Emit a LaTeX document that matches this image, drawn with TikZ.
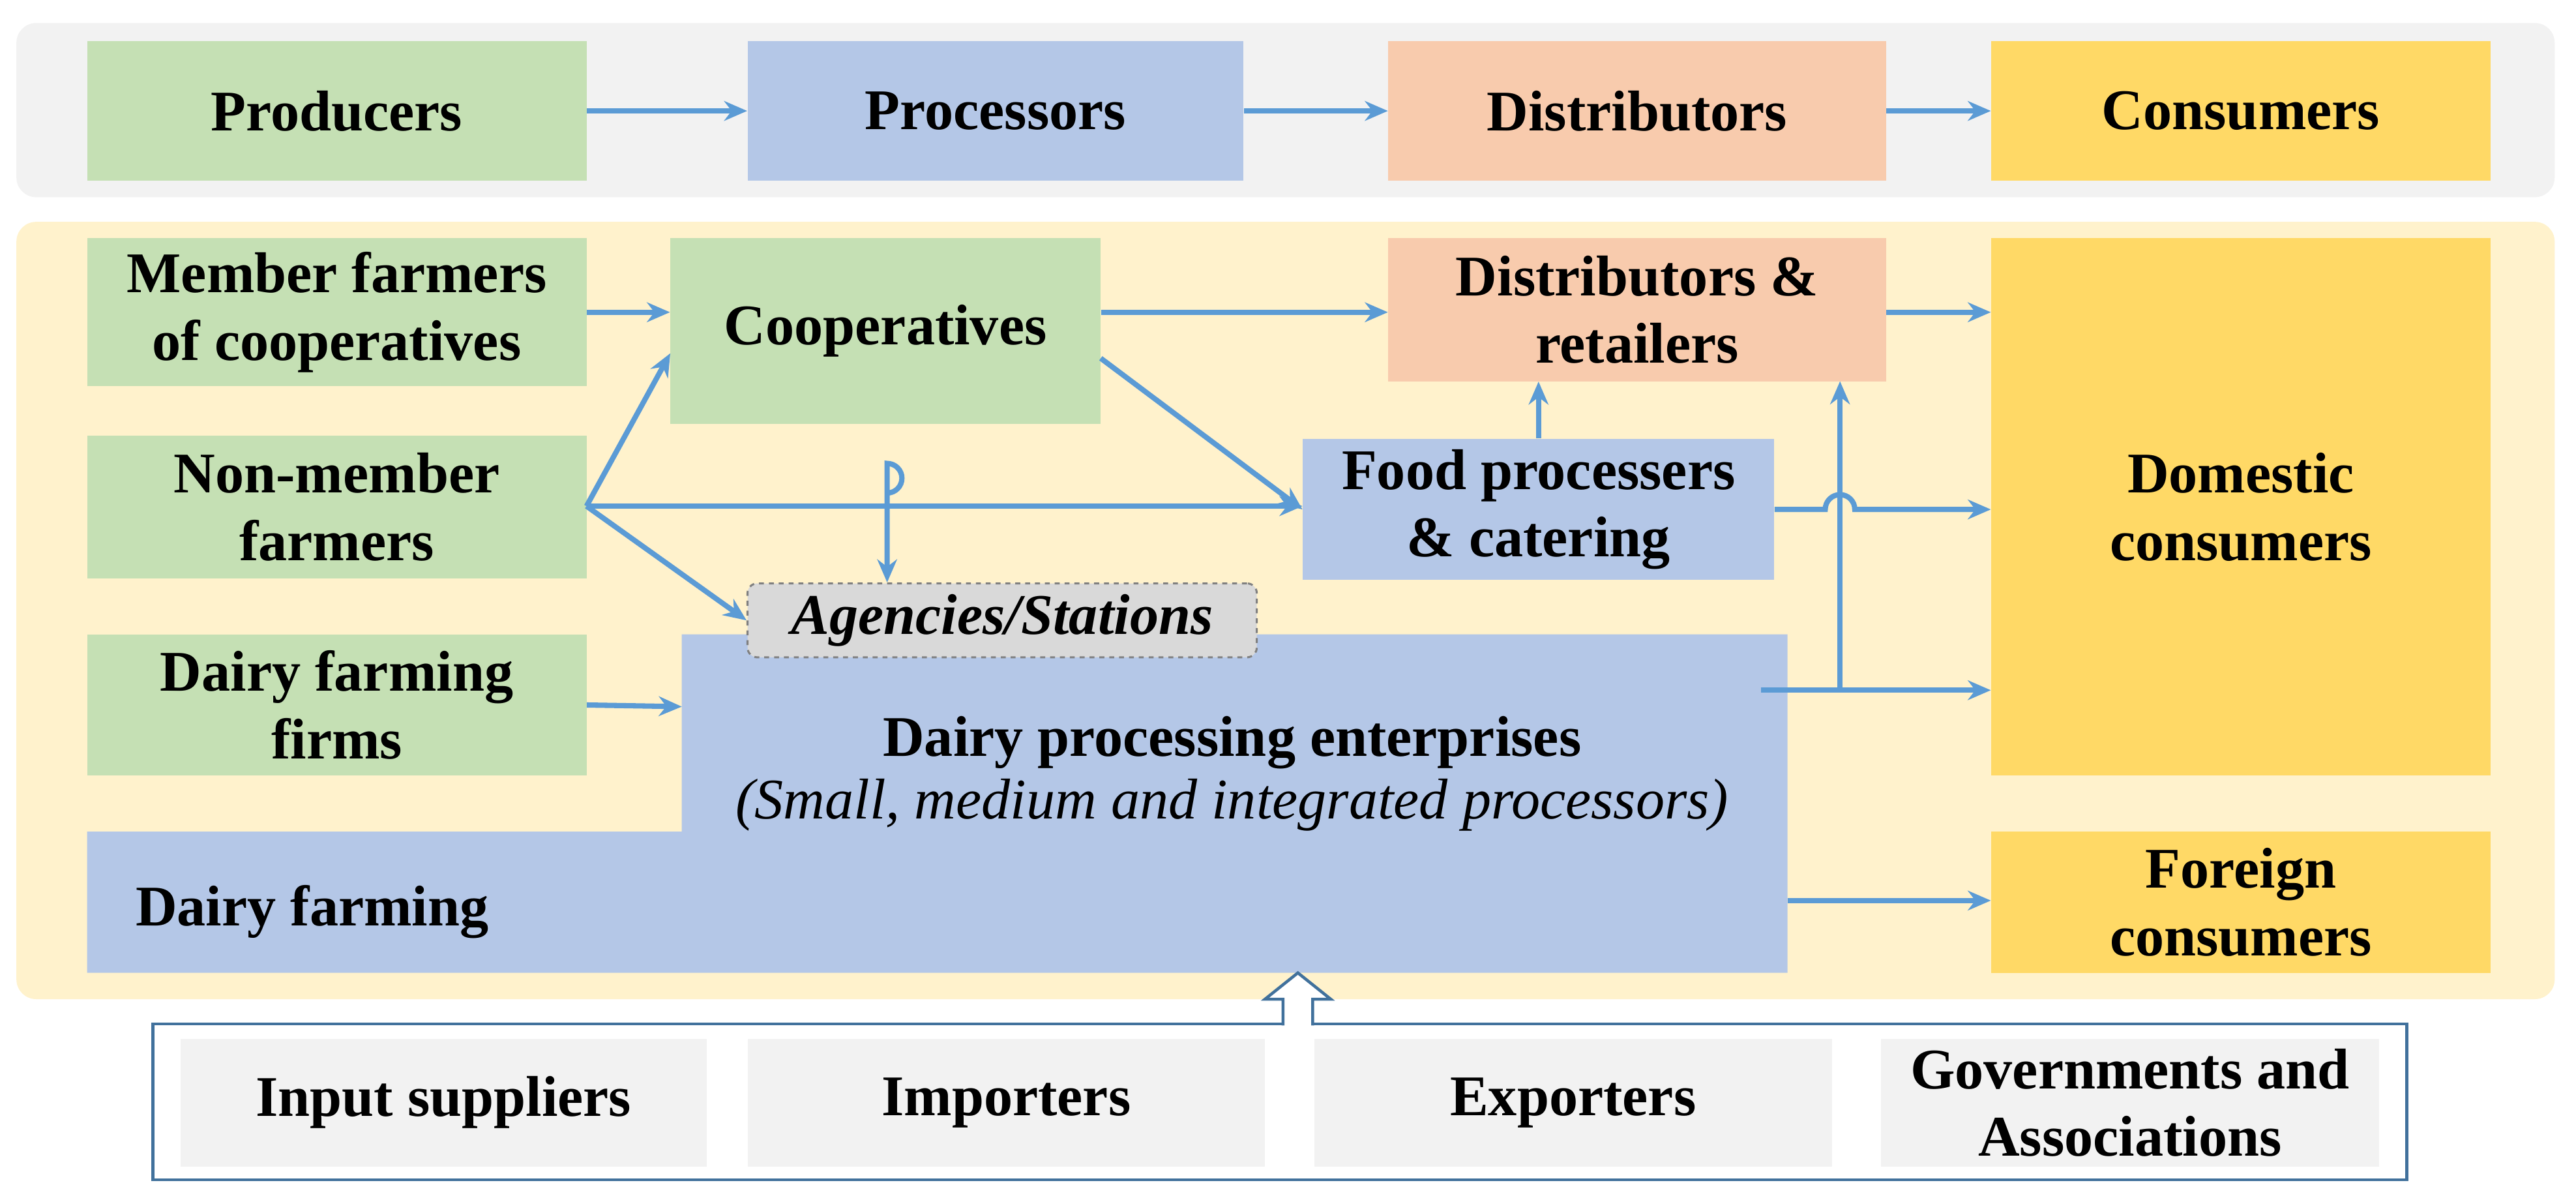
\documentclass[tikz,border=0pt]{standalone}
\usepackage{fontspec}
\setmainfont{Liberation Serif}
\usetikzlibrary{arrows.meta,calc}
\definecolor{cgreen}{HTML}{C5E0B4}
\definecolor{cblue}{HTML}{B4C7E7}
\definecolor{cpeach}{HTML}{F8CBAD}
\definecolor{cyel}{HTML}{FFD966}
\definecolor{cband}{HTML}{FFF2CC}
\definecolor{cgray}{HTML}{F2F2F2}
\definecolor{carrow}{HTML}{5B9BD5}
\definecolor{cedge}{HTML}{41719C}
\tikzset{
 box/.style={inner sep=2pt,align=center,font=\fontsize{35}{41}\selectfont\bfseries},
 arr/.style={draw=carrow,line width=3.2pt,-{Stealth[length=14pt,width=12pt]}},
}
\begin{document}
\begin{tikzpicture}[x=1pt,y=-1pt]
\useasboundingbox (0,0) rectangle (1568,730);
% bands
\fill[cgray,rounded corners=12pt] (10,14) rectangle (1555,120);
\fill[cband,rounded corners=12pt] (10,135) rectangle (1555,608);
% top row
\node[box,fill=cgreen,minimum width=304,minimum height=85] (prod) at (205,67.5) {Producers};
\node[box,fill=cblue,minimum width=302,minimum height=85] (proc) at (606,67.5) {Processors};
\node[box,fill=cpeach,minimum width=303,minimum height=85] (dist) at (996.5,67.5) {Distributors};
\node[box,fill=cyel,minimum width=304,minimum height=85] (cons) at (1364,67.5) {Consumers};
\draw[arr] (prod) -- (proc);
\draw[arr] (proc) -- (dist);
\draw[arr] (dist) -- (cons);
% big blue polygon
\fill[cblue] (415,386) -- (1088,386) -- (1088,592) -- (53,592) -- (53,506) -- (415,506) -- cycle;
\node[box,anchor=center] (dpe) at (750,452) {Dairy processing enterprises};
\node[box,anchor=center,font=\fontsize{35}{41}\selectfont\itshape] (dpesub) at (750,490) {(Small, medium and integrated processors)};
\node[box] (df) at (190,555) {Dairy farming};
\coordinate (dpeR) at (1072,420);
\coordinate (dfR) at (1088,548);
\coordinate (bigL) at (415,430);
% left column
\node[box,fill=cgreen,minimum width=304,minimum height=90] (mem) at (205,190) {Member farmers\\of cooperatives};
\node[box,fill=cgreen,minimum width=304,minimum height=87] (non) at (205,308.5) {Non-member\\farmers};
\node[box,fill=cgreen,minimum width=304,minimum height=86] (firm) at (205,429) {Dairy farming\\firms};
\node[box,fill=cgreen,minimum width=262,minimum height=113] (coop) at (539,201.5) {Cooperatives};
\node[box,fill=cpeach,minimum width=303,minimum height=87] (dr) at (996.5,188.5) {Distributors \&\\retailers};
\node[box,fill=cblue,minimum width=287,minimum height=86] (fp) at (936.5,310) {Food processers\\\& catering};
\node[box,fill=cyel,minimum width=304,minimum height=327] (dom) at (1364,308.5) {Domestic\\consumers};
\node[box,fill=cyel,minimum width=304,minimum height=86] (for) at (1364,549) {Foreign\\consumers};
\node[box,draw=gray,dashed,line width=1.2pt,rounded corners=6pt,fill=gray!30,minimum width=310,minimum height=45,font=\fontsize{35}{41}\selectfont\bfseries\itshape] (ag) at (610,377.5) {Agencies/Stations};
% arrows
\draw[arr] (mem.east) -- (mem.east -| coop.west);
\draw[arr] (coop.east |- mem.east) -- (dr.west |- mem.east);
\draw[arr] (dr.east |- mem.east) -- (dom.west |- mem.east);
\coordinate (np) at (357,308);
\draw[arr] (np) -- (408,215);
\draw[arr] (np) -- (fp.west |- np);
\draw[arr] (np) -- (ag.west);
\draw[arr] (670,218) -- (fp.west);
\draw[arr] (540,285) -- (540,300) arc (90:-90:9) -- (ag.north -| 540,0);
\draw[arr] (fp.north) -- (fp.north |- dr.south);
\draw[arr] (fp.east) -- (1111,310) arc (180:360:9) -- (dom.west |- fp.east);
\draw[arr] (dpeR) -- (dom.west |- dpeR);
\draw[arr] (1120,420) -- (1120,232);
\draw[arr] (dfR) -- (for.west |- dfR);
\draw[arr] (firm.east) -- (bigL);
% bottom
\draw[cedge,line width=1.8pt,fill=white] (93,623) rectangle (1465,718);
\node[box,fill=cgray,minimum width=320,minimum height=78] (inp) at (270,671) {Input suppliers};
\node[box,fill=cgray,minimum width=315,minimum height=78] (imp) at (612.5,671) {Importers};
\node[box,fill=cgray,minimum width=315,minimum height=78] (exp) at (957.5,671) {Exporters};
\node[box,fill=cgray,minimum width=303,minimum height=78] (gov) at (1296.5,671) {Governments and\\Associations};
\draw[cedge,line width=1.8pt,fill=white] (781,624) -- (781,608) -- (770,608) -- (790,592) -- (810,608) -- (799,608) -- (799,624);
\end{tikzpicture}
\end{document}
